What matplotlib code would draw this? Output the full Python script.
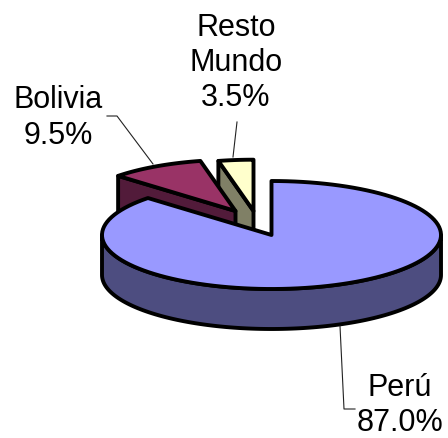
#!/usr/bin/env python3
import numpy as np
import matplotlib
matplotlib.use("Agg")
import matplotlib.pyplot as plt
from matplotlib.patches import Polygon

plt.rcParams["font.family"] = ["Liberation Sans", "DejaVu Sans"]

names = ["Perú", "Bolivia", "Resto\nMundo"]
shares = [87.0, 9.5, 3.5]
top_colors = ["#9999FF", "#993366", "#FFFFCC"]
side_colors = ["#4D4D80", "#521B3A", "#808066"]

cx, cy = 271.5, 236
rx, ry = 169.5, 54
depth = 40

# angles are clockwise from 12 o'clock
ends = np.cumsum(shares) / 100 * 360
starts = np.r_[0, ends[:-1]]


def arc(t0, t1, x0=cx, y0=cy, scale=1.0, drop=0):
    t = np.radians(np.linspace(t0, t1, 120))
    return np.c_[x0 + scale * rx * np.sin(t), y0 + drop - scale * ry * np.cos(t)]


def poly(ax, pts, color):
    ax.add_patch(Polygon(pts, closed=True, facecolor=color, edgecolor="black",
                         linewidth=2.8, joinstyle="round"))


fig = plt.figure(figsize=(4.48, 4.39), dpi=100)
ax = fig.add_axes([0, 0, 1, 1])
ax.set_xlim(0, 448)
ax.set_ylim(439, 0)
ax.axis("off")

# pulled out slices, back to front
shift = {2: (-18, -24), 1: (-36, -24)}
for i in [2, 1]:
    x0, y0 = cx + shift[i][0], cy + shift[i][1]
    edge = arc(starts[i], ends[i], x0, y0, 0.95)
    apex = np.array([x0, y0])
    p = edge[0]
    # cut face seen from the front
    poly(ax, [apex, p, p + [0, depth], apex + [0, depth]], side_colors[i])
    poly(ax, np.vstack([apex, edge]), top_colors[i])

# big slice
poly(ax, np.vstack([arc(90, 270), arc(270, 90, drop=depth)]), side_colors[0])
poly(ax, np.vstack([[cx, cy], arc(starts[0], ends[0])]), top_colors[0])

# leader lines
ax.plot([107, 117, 153], [117, 117, 165], color="#222222", lw=0.8)
ax.plot([237, 233], [123, 158], color="#222222", lw=0.8)
ax.plot([340, 344, 355], [327, 410, 410], color="#222222", lw=0.8)

fs = 22
ax.text(400, 405.5, "%s\n%.1f%%" % (names[0], shares[0]), ha="center", va="center",
        fontsize=fs, linespacing=1.2, color="black")
ax.text(58, 118, "%s\n%.1f%%" % (names[1], shares[1]), ha="center", va="center",
        fontsize=fs, linespacing=1.23, color="black")
ax.text(236, 63, "%s\n%.1f%%" % (names[2], shares[2]), ha="center", va="center",
        fontsize=fs, linespacing=1.23, color="black")

fig.savefig("out.png", dpi=100)
plt.close(fig)
